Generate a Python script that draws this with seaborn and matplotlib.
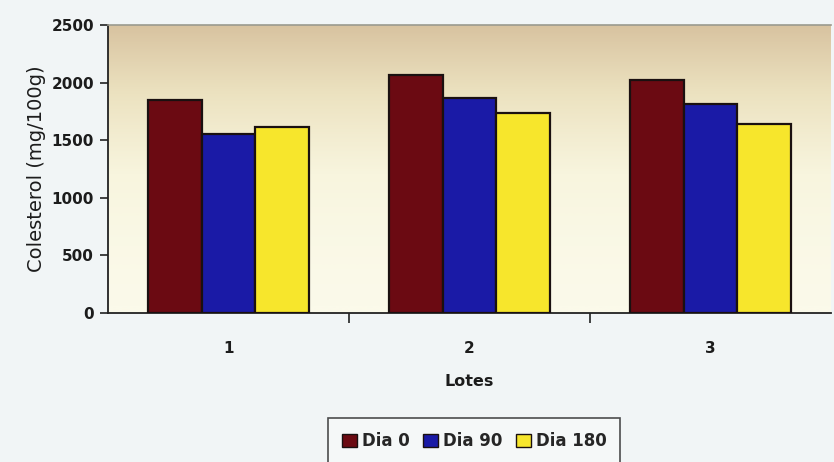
import numpy as np
import pandas as pd
import matplotlib
matplotlib.use("Agg")
import matplotlib.pyplot as plt
from matplotlib.colors import LinearSegmentedColormap
from matplotlib.patches import Patch
import seaborn as sns

# Cholesterol content per batch at each sampling day
lotes = ["1", "2", "3"]
dia_0 = [1850, 2070, 2020]
dia_90 = [1555, 1870, 1818]
dia_180 = [1615, 1732, 1638]
series_names = ["Dia 0", "Dia 90", "Dia 180"]
series_colors = ["#6b0a12", "#1a1aa6", "#f7e62c"]
y_ticks = [0, 500, 1000, 1500, 2000, 2500]

df = pd.DataFrame({
    "Lotes": lotes * 3,
    "Dia": [series_names[0]] * 3 + [series_names[1]] * 3 + [series_names[2]] * 3,
    "Colesterol": dia_0 + dia_90 + dia_180,
})

sns.set_theme(style="white")
plt.rcParams["font.family"] = ["DejaVu Sans"]

fig = plt.figure(figsize=(8.34, 4.62), dpi=100, facecolor="#f1f5f6")
ax = fig.add_axes([108 / 834, (462 - 313) / 462, (831 - 108) / 834, 288 / 462])

sns.barplot(data=df, x="Lotes", y="Colesterol", hue="Dia", order=lotes,
            hue_order=series_names, palette=series_colors, width=0.67,
            edgecolor="#1a1010", linewidth=1.6, saturation=1, ax=ax,
            legend=False, zorder=3)

# plot-area background: tan at the top fading to pale cream
cmap = LinearSegmentedColormap.from_list(
    "bg", ["#fbfaea", "#f8f5de", "#ece2c0", "#d8c3a0"])
grad = np.linspace(0, 1, 256).reshape(-1, 1) ** 1.5
ax.imshow(grad, cmap=cmap, aspect="auto", origin="lower",
          extent=(-0.5, 2.5, 0, 2500), zorder=0)
ax.set_xlim(-0.5, 2.5)
ax.set_ylim(0, 2500)

ax.spines["right"].set_visible(False)
ax.spines["top"].set_color("#9a9a8e")
ax.spines["top"].set_linestyle((0, (2, 1)))
ax.spines["top"].set_linewidth(1.2)
ax.spines["left"].set_color("#222222")
ax.spines["left"].set_linewidth(1.3)
ax.spines["bottom"].set_color("#222222")
ax.spines["bottom"].set_linewidth(1.3)

ax.set_yticks(y_ticks)
ax.set_yticklabels([str(t) for t in y_ticks], fontsize=11, fontweight="bold",
                   color="#1c1c1c")
ax.tick_params(axis="y", direction="out", length=6, width=1.2, color="#222222",
               left=True, pad=4)

# category labels centred, tick marks at the category boundaries
ax.set_xticks([0.5, 1.5], minor=True)
ax.set_xticks([0, 1, 2])
ax.set_xticklabels(lotes, fontsize=11, fontweight="bold", color="#1c1c1c")
ax.tick_params(axis="x", which="major", length=0, pad=20)
ax.tick_params(axis="x", which="minor", direction="out", length=7, width=1.2,
               color="#222222", bottom=True)

ax.set_xlabel("Lotes", fontsize=11.5, fontweight="bold", color="#1c1c1c",
              labelpad=13)
ax.set_ylabel("Colesterol (mg/100g)", fontsize=14, color="#1c1c1c",
              labelpad=4)

handles = [Patch(facecolor=c, edgecolor="#1a1010", linewidth=1.0)
           for c in series_colors]
leg = fig.legend(handles, series_names, loc="upper center",
                 bbox_to_anchor=(474 / 834, 1 - 418 / 462), borderaxespad=0,
                 ncol=3, frameon=True, fancybox=False, edgecolor="#222222",
                 facecolor="#f7f9f9", handlelength=0.9, handleheight=0.9,
                 handletextpad=0.3, columnspacing=0.8, borderpad=0.85,
                 prop={"weight": "bold", "size": 12})
leg.get_frame().set_linewidth(1.2)

fig.savefig("out.png", dpi=100, facecolor=fig.get_facecolor())
